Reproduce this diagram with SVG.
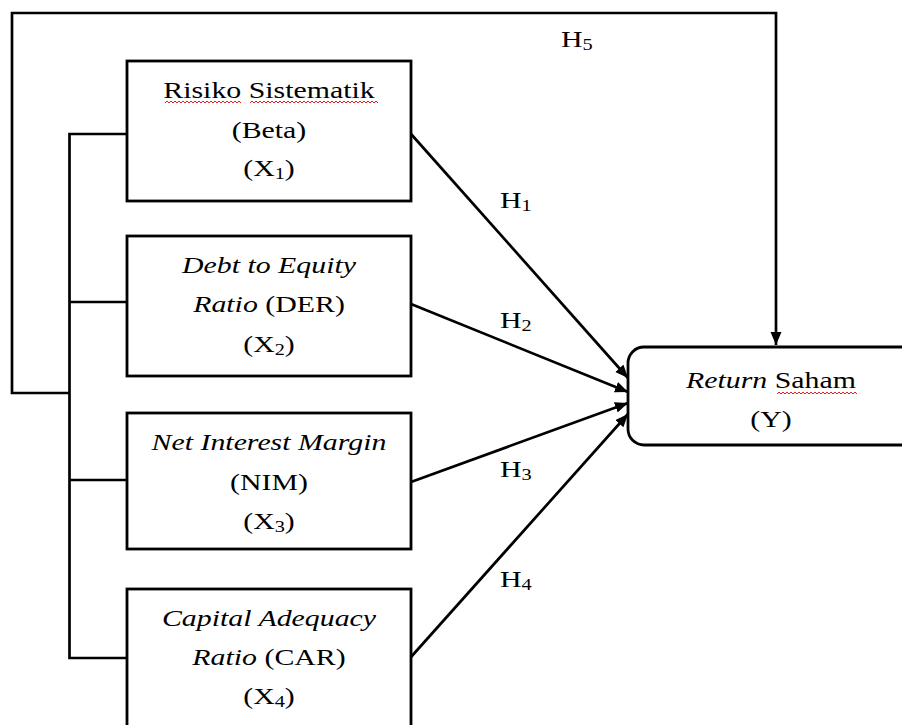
<svg xmlns="http://www.w3.org/2000/svg" width="902" height="725" viewBox="0 0 902 725">
<style>
.box{fill:#fff;stroke:#000;stroke-width:2.8}
.ln{fill:none;stroke:#000;stroke-width:2.7}
.t{font-family:"Liberation Serif","Times New Roman",serif;font-size:23.5px;fill:#000;text-anchor:middle}
.h{font-family:"Liberation Serif","Times New Roman",serif;font-size:23.5px;fill:#000;text-anchor:start}
.i{font-style:italic}
.sub{font-size:16px}
.sq{fill:none;stroke:#e02020;stroke-width:1}
</style>
<defs>
<marker id="arr" markerUnits="userSpaceOnUse" markerWidth="14" markerHeight="12" refX="13" refY="5.5" orient="auto">
<path d="M0,0 L13,5.5 L0,11 z" fill="#000"/>
</marker>
</defs>
<rect width="902" height="725" fill="#fff"/>
<g id="connectors">
<path class="ln" d="M69,393 H12 V13 H776 V345" marker-end="url(#arr)"/>
<path class="ln" d="M127,134 H69.5 V658 H127"/>
<path class="ln" d="M69.5,302 H127 M69.5,480 H127"/>
<line class="ln" x1="411" y1="134" x2="628" y2="378" marker-end="url(#arr)"/>
<line class="ln" x1="411" y1="304" x2="628" y2="392" marker-end="url(#arr)"/>
<line class="ln" x1="411" y1="482" x2="628" y2="403" marker-end="url(#arr)"/>
<line class="ln" x1="411" y1="657" x2="628" y2="414" marker-end="url(#arr)"/>
<text class="h" transform="translate(561,47) scale(1.27,1)">H<tspan class="sub" dy="3">5</tspan></text>
<text class="h" transform="translate(500,208) scale(1.27,1)">H<tspan class="sub" dy="3">1</tspan></text>
<text class="h" transform="translate(500,328) scale(1.27,1)">H<tspan class="sub" dy="3">2</tspan></text>
<text class="h" transform="translate(500,477) scale(1.27,1)">H<tspan class="sub" dy="3">3</tspan></text>
<text class="h" transform="translate(500,587) scale(1.27,1)">H<tspan class="sub" dy="3">4</tspan></text>
</g>
<g id="x1">
<rect class="box" x="127" y="61" width="284" height="140"/>
<text class="t" transform="translate(269,98) scale(1.27,1)">Risiko Sistematik</text>
<path class="sq" d="M165,103 l2,-2 l2,2 l2,-2 l2,2 l2,-2 l2,2 l2,-2 l2,2 l2,-2 l2,2 l2,-2 l2,2 l2,-2 l2,2 l2,-2 l2,2 l2,-2 l2,2 l2,-2 l2,2 l2,-2 l2,2 l2,-2 l2,2 l2,-2 l2,2 l2,-2 l2,2 l2,-2 l2,2 l2,-2 l2,2 l2,-2 l2,2 l2,-2 l2,2 l2,-2 l2,2"/>
<path class="sq" d="M250,103 l2,-2 l2,2 l2,-2 l2,2 l2,-2 l2,2 l2,-2 l2,2 l2,-2 l2,2 l2,-2 l2,2 l2,-2 l2,2 l2,-2 l2,2 l2,-2 l2,2 l2,-2 l2,2 l2,-2 l2,2 l2,-2 l2,2 l2,-2 l2,2 l2,-2 l2,2 l2,-2 l2,2 l2,-2 l2,2 l2,-2 l2,2 l2,-2 l2,2 l2,-2 l2,2 l2,-2 l2,2 l2,-2 l2,2 l2,-2 l2,2 l2,-2 l2,2 l2,-2 l2,2 l2,-2 l2,2 l2,-2 l2,2 l2,-2 l2,2 l2,-2 l2,2 l2,-2 l2,2 l2,-2 l2,2 l2,-2 l2,2 l2,-2 l2,2"/>
<text class="t" transform="translate(269,138) scale(1.27,1)">(Beta)</text>
<text class="t" transform="translate(269,176) scale(1.27,1)">(X<tspan class="sub" dy="3">1</tspan><tspan dy="-3">)</tspan></text>
</g>
<g id="x2">
<rect class="box" x="127" y="236" width="284" height="140"/>
<text class="t i" transform="translate(269,273) scale(1.27,1)">Debt to Equity</text>
<text class="t" transform="translate(269,312) scale(1.27,1)"><tspan class="i">Ratio</tspan> (DER)</text>
<text class="t" transform="translate(269,352) scale(1.27,1)">(X<tspan class="sub" dy="3">2</tspan><tspan dy="-3">)</tspan></text>
</g>
<g id="x3">
<rect class="box" x="127" y="413" width="284" height="136"/>
<text class="t i" transform="translate(269,450) scale(1.27,1)">Net Interest Margin</text>
<text class="t" transform="translate(269,490) scale(1.27,1)">(NIM)</text>
<text class="t" transform="translate(269,529) scale(1.27,1)">(X<tspan class="sub" dy="3">3</tspan><tspan dy="-3">)</tspan></text>
</g>
<g id="x4">
<rect class="box" x="127" y="589" width="284" height="160"/>
<text class="t i" transform="translate(269,626) scale(1.27,1)">Capital Adequacy</text>
<text class="t" transform="translate(269,665) scale(1.27,1)"><tspan class="i">Ratio</tspan> (CAR)</text>
<text class="t" transform="translate(269,704) scale(1.27,1)">(X<tspan class="sub" dy="3">4</tspan><tspan dy="-3">)</tspan></text>
</g>
<g id="y">
<rect class="box" x="628" y="347" width="292" height="98" rx="16"/>
<text class="t" transform="translate(771,388) scale(1.27,1)"><tspan class="i">Return</tspan> Saham</text>
<path class="sq" d="M777,394 l2,-2 l2,2 l2,-2 l2,2 l2,-2 l2,2 l2,-2 l2,2 l2,-2 l2,2 l2,-2 l2,2 l2,-2 l2,2 l2,-2 l2,2 l2,-2 l2,2 l2,-2 l2,2 l2,-2 l2,2 l2,-2 l2,2 l2,-2 l2,2 l2,-2 l2,2 l2,-2 l2,2 l2,-2 l2,2 l2,-2 l2,2 l2,-2 l2,2 l2,-2 l2,2 l2,-2 l2,2"/>
<text class="t" transform="translate(771,427) scale(1.27,1)">(Y)</text>
</g>
</svg>
